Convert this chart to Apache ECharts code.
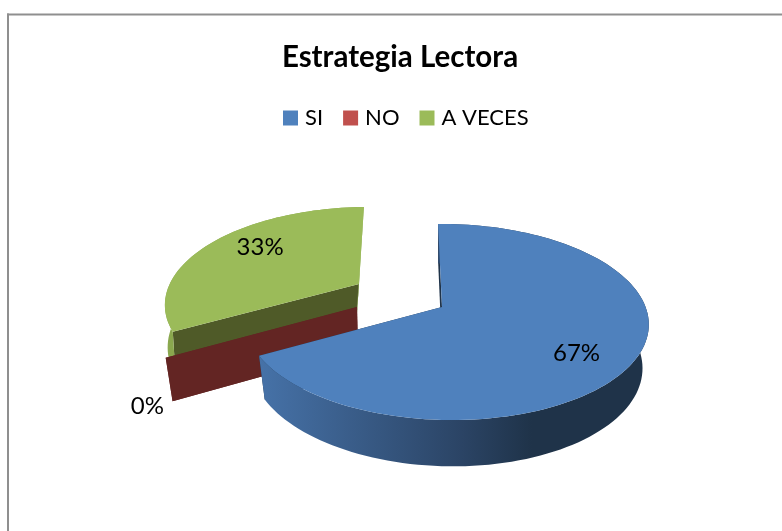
<!DOCTYPE html>
<html>
<head>
<meta charset="utf-8">
<title>Estrategia Lectora</title>
<script src="https://cdn.jsdelivr.net/npm/echarts@6/dist/echarts.min.js"></script>
<style>
  html, body { margin: 0; padding: 0; background: #fff; }
  #chart { width: 782px; height: 531px; }
</style>
</head>
<body>
<div id="chart"></div>
<script>
const categories = ['SI', 'NO', 'A VECES'];
const values = [67, 0, 33];

const fontName = 'Lato';
const colors = ['#4f81bd', '#c0504d', '#9bbb59'];
const total = values.reduce((a, b) => a + b, 0);

// each slice has its own tilted plane: apex on screen, radii, perspective
const slices = [
  { x0: 442, y0: 307, a: 95.7, b: 199.5, p: 0.153, q: -0.02, s: -0.0226, r: 0.03, depth: 44, dxz: 0,
    labelR: 0.72, labelDy: 9, cutStart: '#1f3349', cutEnd: '#1f3349',
    wall: ['#4672a8', '#2b4465', '#1f3349', '#1f3349'] },
  { x0: 357, y0: 307, a: 100, b: 207, p: 0.153, q: -0.025, s: 0, r: 0.03, depth: 44, dxz: 1,
    labelR: 1.09, labelDy: 44, cutStart: '#632523', cutEnd: '#632523',
    wall: ['#632523', '#632523', '#632523', '#632523'] },
  { x0: 359, y0: 284, a: 92, b: 194, p: 0.195, q: -0.025, s: 0.03, r: 0.03, depth: 44, dxz: -3,
    labelR: 0.65, labelDy: -9, cutStart: '#4f5a28', cutEnd: '#8aa84e',
    wall: ['#8aa84e', '#8aa84e', '#8aa84e', '#8aa84e'] }
];

// start and end angle of slice i, clockwise from 12 o'clock
function sliceAngles(i) {
  let before = 0;
  for (let k = 0; k < i; k++) before += values[k];
  return [before / total * 360, (before + values[i]) / total * 360];
}

// plane point (u, v), z = 0 on the top face and 1 on the bottom one
function project(sl, u, v, z) {
  const w = 1 + sl.p * v + sl.q * u + sl.r * z;
  return [
    sl.x0 + sl.dxz * z + sl.b * (u + sl.s * v) / w,
    sl.y0 - sl.a * v / w + sl.depth * z / w
  ];
}

function rimPoint(sl, deg, radius, z) {
  const t = deg * Math.PI / 180;
  return project(sl, radius * Math.sin(t), radius * Math.cos(t), z);
}

function rim(sl, from, to, z) {
  const pts = [];
  const steps = Math.max(1, Math.ceil(Math.abs(to - from) / 2));
  for (let k = 0; k <= steps; k++) {
    pts.push(rimPoint(sl, from + (to - from) * k / steps, 1, z));
  }
  return pts;
}

function cutWall(sl, deg, fill) {
  return {
    type: 'polygon',
    shape: { points: [project(sl, 0, 0, 0), rimPoint(sl, deg, 1, 0), rimPoint(sl, deg, 1, 1), project(sl, 0, 0, 1)] },
    style: { fill: fill }
  };
}

function renderSlice(i) {
  return function (params, api) {
    const sl = slices[i];
    const angles = sliceAngles(i);
    const value = api.value(0);
    const mid = (angles[0] + angles[1]) / 2;
    const labelPos = rimPoint(sl, mid, sl.labelR, 0);
    const children = [];

    children.push(cutWall(sl, angles[0], sl.cutStart));
    children.push(cutWall(sl, angles[1], sl.cutEnd));
    if (value > 0) {
      children.push({
        type: 'polygon',
        shape: { points: rim(sl, angles[0], angles[1], 0).concat(rim(sl, angles[1], angles[0], 1)) },
        style: {
          fill: new echarts.graphic.LinearGradient(0, 0, 1, 0, [
            { offset: 0, color: sl.wall[0] },
            { offset: 0.52, color: sl.wall[1] },
            { offset: 0.7, color: sl.wall[2] },
            { offset: 1, color: sl.wall[3] }
          ])
        }
      });
      children.push({
        type: 'polygon',
        shape: { points: [project(sl, 0, 0, 0)].concat(rim(sl, angles[0], angles[1], 0)) },
        style: { fill: colors[i] }
      });
    }
    children.push({
      type: 'text',
      style: {
        x: labelPos[0],
        y: labelPos[1] + sl.labelDy,
        text: value + '%',
        fill: '#000',
        font: '24px ' + fontName,
        align: 'center',
        verticalAlign: 'middle'
      }
    });
    return { type: 'group', children: children };
  };
}

const chart = echarts.init(document.getElementById('chart'));

chart.setOption({
  animation: false,
  backgroundColor: '#fff',
  title: {
    text: 'Estrategia Lectora',
    left: 395,
    top: 37,
    textAlign: 'center',
    textStyle: { fontFamily: fontName, fontSize: 29.5, fontWeight: 'bold', color: '#000' }
  },
  legend: {
    data: categories,
    left: 278,
    top: 102,
    icon: 'rect',
    itemWidth: 15,
    itemHeight: 15,
    itemGap: 20,
    textStyle: { fontFamily: fontName, fontSize: 22, color: '#000', padding: [0, 0, 0, 2] }
  },
  graphic: [
    { type: 'rect', shape: { x: 7, y: 13.5, width: 775, height: 2 }, style: { fill: '#8f8f8f' } },
    { type: 'rect', shape: { x: 7, y: 13.5, width: 2, height: 518 }, style: { fill: '#8f8f8f' } }
  ],
  // green first, red over it, blue in front
  series: [2, 1, 0].map(function (i) {
    return {
      type: 'custom',
      name: categories[i],
      coordinateSystem: 'none',
      itemStyle: { color: colors[i] },
      renderItem: renderSlice(i),
      data: [[values[i]]]
    };
  })
});
</script>
</body>
</html>
